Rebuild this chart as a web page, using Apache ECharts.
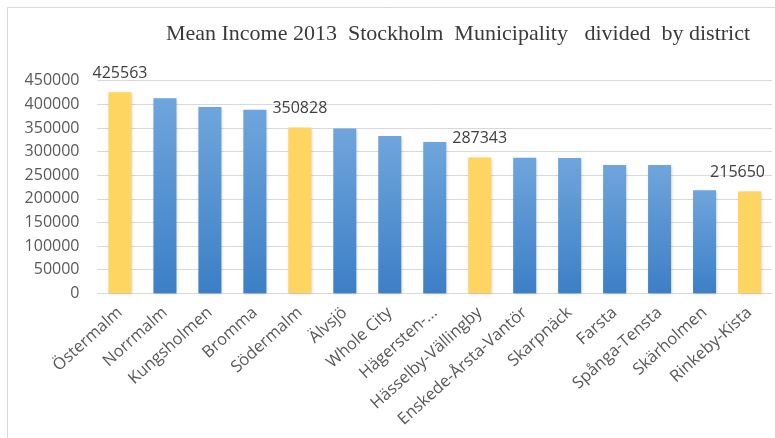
<!DOCTYPE html>
<html>
<head>
<meta charset="utf-8">
<script src="https://cdn.jsdelivr.net/npm/echarts@6/dist/echarts.min.js"></script>
<style>
  html, body { margin: 0; padding: 0; background: #ffffff; }
  #chart { width: 775px; height: 438px; }
</style>
</head>
<body>
<div id="chart"></div>
<script>
// Districts of Stockholm municipality, ordered by mean income
const districts = [
  'Östermalm', 'Norrmalm', 'Kungsholmen', 'Bromma', 'Södermalm', 'Älvsjö',
  'Whole City', 'Hägersten-...', 'Hässelby-Vällingby', 'Enskede-Årsta-Vantör',
  'Skarpnäck', 'Farsta', 'Spånga-Tensta', 'Skärholmen', 'Rinkeby-Kista'
];
// Mean income 2013 (SEK)
const meanIncome = [
  425563, 413000, 394500, 388500, 350828, 348800,
  332900, 320000, 287343, 287000, 286500, 271500,
  271500, 218000, 215650
];
// Districts drawn in gold with their value printed above
const highlighted = ['Östermalm', 'Södermalm', 'Hässelby-Vällingby', 'Rinkeby-Kista'];
// Value axis ticks
const yMin = 0, yMax = 450000, yStep = 50000;

const blueFill = new echarts.graphic.LinearGradient(0, 0, 0, 1, [
  { offset: 0, color: '#6fa5dc' },
  { offset: 1, color: '#3c7fc6' }
]);
const goldFill = '#fdd560';

const barData = districts.map((name, i) => {
  const hot = highlighted.includes(name);
  return {
    value: meanIncome[i],
    itemStyle: { color: hot ? goldFill : blueFill },
    label: { show: hot }
  };
});

const chart = echarts.init(document.getElementById('chart'), null, { renderer: 'canvas' });
chart.setOption({
  animation: false,
  backgroundColor: '#ffffff',
  graphic: [{
    type: 'rect',
    shape: { x: 7.5, y: 7.5, width: 820, height: 500 },
    style: { fill: 'none', stroke: '#d9d9d9', lineWidth: 1 },
    silent: true,
    z: -1
  }],
  title: {
    text: 'Mean Income 2013  Stockholm  Municipality   divided  by district',
    left: 453,
    textAlign: 'center',
    top: 18,
    textStyle: {
      fontFamily: '"Liberation Serif", "DejaVu Serif", serif',
      fontWeight: 'normal',
      fontSize: 22,
      color: '#3a3a3a'
    }
  },
  grid: { left: 97.5, right: 3, top: 80.7, bottom: 144.7, containLabel: false },
  xAxis: {
    type: 'category',
    data: districts,
    axisLine: { lineStyle: { color: '#d9d9d9', width: 1 } },
    axisTick: { show: false },
    axisLabel: {
      interval: 0,
      rotate: 42,
      margin: 17,
      fontFamily: '"Open Sans", sans-serif',
      fontSize: 16.5,
      color: '#595959'
    }
  },
  yAxis: {
    type: 'value',
    min: yMin,
    max: yMax,
    interval: yStep,
    axisLine: { show: false },
    axisTick: { show: false },
    splitLine: { lineStyle: { color: '#d9d9d9', width: 1 } },
    axisLabel: {
      margin: 18,
      formatter: v => String(v),
      fontFamily: '"Open Sans", sans-serif',
      fontSize: 16,
      color: '#595959'
    }
  },
  series: [{
    type: 'bar',
    data: barData,
    barWidth: 23,
    itemStyle: {
      shadowColor: 'rgba(0,0,0,0.22)',
      shadowBlur: 3,
      shadowOffsetX: 1,
      shadowOffsetY: 1
    },
    label: {
      position: 'top',
      distance: 11,
      fontFamily: '"Open Sans", sans-serif',
      fontSize: 16,
      color: '#404040'
    },
    // keep value labels inside the chart's right edge
    labelLayout: p => {
      const r = p.labelRect;
      const edge = 765;
      return r.x + r.width > edge ? { dx: edge - (r.x + r.width) } : {};
    }
  }]
});
</script>
</body>
</html>
